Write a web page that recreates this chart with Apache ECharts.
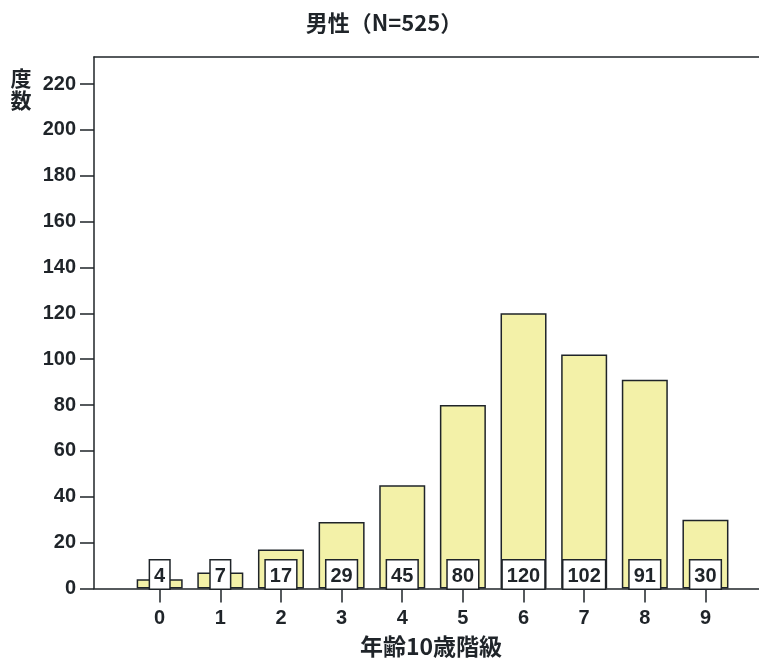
<!DOCTYPE html>
<html>
<head>
<meta charset="utf-8">
<script src="https://cdn.jsdelivr.net/npm/echarts@6/dist/echarts.min.js"></script>
<style>
html,body{margin:0;padding:0;background:#fff;}
#chart{width:759px;height:663px;}
</style>
</head>
<body>
<div id="chart"></div>
<script>
const categories = [0, 1, 2, 3, 4, 5, 6, 7, 8, 9];
const counts = [4, 7, 17, 29, 45, 80, 120, 102, 91, 30];
const yTicks = [0, 20, 40, 60, 80, 100, 120, 140, 160, 180, 200, 220];
const titleText = '男性（N=525）';
const xName = '年齢10歳階級';
const yName = '度\n数';

const chart = echarts.init(document.getElementById('chart'));
const xMin = -1.083, xMax = 9.883;
const ink = '#1f2429';
const numFont = 'Liberation Sans, Arial, sans-serif';
const cjkFont = 'Noto Sans CJK JP, sans-serif';

chart.setOption({
  animation: false,
  backgroundColor: '#fff',
  grid: { left: 94, right: 0, top: 57, bottom: 74.5 },
  xAxis: [{
    type: 'value', min: xMin, max: xMax, position: 'bottom',
    axisLine: { show: true, onZero: false, lineStyle: { color: ink, width: 1.5 } },
    axisTick: { show: true, customValues: categories, length: 14, lineStyle: { color: ink, width: 1.5 } },
    axisLabel: { show: true, customValues: categories, margin: 20, color: ink, fontSize: 20, fontWeight: 'bold', fontFamily: numFont },
    splitLine: { show: false }
  }, {
    type: 'value', min: xMin, max: xMax, position: 'top',
    axisLine: { show: true, onZero: false, lineStyle: { color: ink, width: 1.5 } },
    axisTick: { show: false }, axisLabel: { show: false }, splitLine: { show: false }
  }],
  yAxis: {
    type: 'value', min: 0, max: 231.8, position: 'left',
    axisLine: { show: true, onZero: false, lineStyle: { color: ink, width: 1.5 } },
    axisTick: { show: true, customValues: yTicks, length: 14, lineStyle: { color: ink, width: 1.5 } },
    axisLabel: { show: true, customValues: yTicks, margin: 18, color: ink, fontSize: 20, fontWeight: 'bold', fontFamily: numFont },
    splitLine: { show: false }
  },
  graphic: [
    { type: 'text', x: 384, y: 23, style: { text: titleText, fill: ink, font: 'bold 22px ' + cjkFont, textAlign: 'center', textVerticalAlign: 'middle' } },
    { type: 'text', x: 21, y: 89, style: { text: yName, fill: ink, font: 'bold 21px ' + cjkFont, textAlign: 'center', textVerticalAlign: 'middle', lineHeight: 22 } },
    { type: 'text', x: 431, y: 646, style: { text: xName, fill: ink, font: 'bold 23px ' + cjkFont, textAlign: 'center', textVerticalAlign: 'middle' } }
  ],
  series: [{
    type: 'bar',
    xAxisIndex: 0,
    barWidth: 46,
    data: categories.map((c, i) => [c, counts[i]]),
    itemStyle: { color: '#f3f1a8', borderColor: ink, borderWidth: 1.5 },
    label: {
      show: true, position: 'insideBottom', distance: 0,
      formatter: p => String(p.value[1]),
      color: ink, fontSize: 20, fontWeight: 'bold', fontFamily: numFont,
      backgroundColor: '#fff', borderColor: ink, borderWidth: 1.5,
      padding: [6, 4, 2, 4], lineHeight: 20
    }
  }]
});
</script>
</body>
</html>
